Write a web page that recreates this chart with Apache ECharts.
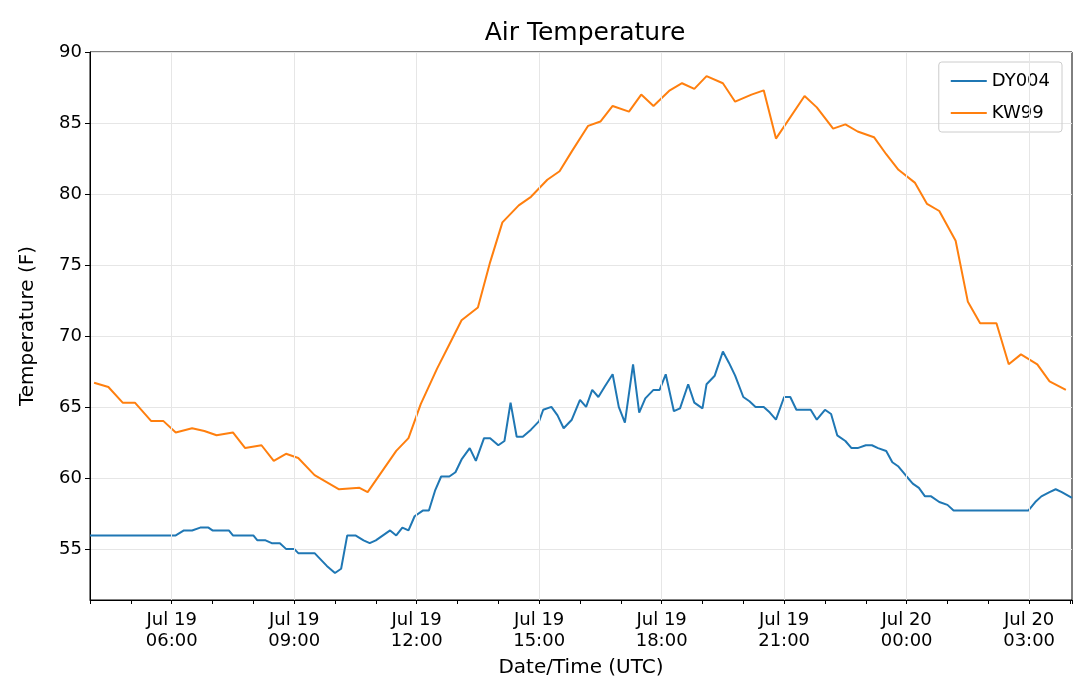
<!DOCTYPE html>
<html>
<head>
<meta charset="utf-8">
<script src="https://cdn.jsdelivr.net/npm/echarts@6/dist/echarts.min.js"></script>
<style>html,body{margin:0;padding:0;background:#fff}#main{width:1080px;height:692px}</style>
</head>
<body>
<div id="main"></div>
<script>
// hours since Jul 19 00:00 UTC
var dyTimes = [4.0,6.1,6.3,6.5,6.7,6.9,7.0,7.4,7.5,8.0,8.1,8.3,8.45,8.65,8.8,9.0,9.1,9.5,9.8,10.0,10.15,10.3,10.5,10.7,10.85,11.0,11.35,11.5,11.65,11.8,11.95,12.15,12.3,12.45,12.6,12.8,12.95,13.1,13.3,13.45,13.65,13.8,14.0,14.15,14.3,14.45,14.6,14.8,15.0,15.1,15.3,15.45,15.6,15.8,16.0,16.15,16.3,16.45,16.6,16.8,16.95,17.1,17.3,17.45,17.6,17.8,17.95,18.1,18.3,18.45,18.65,18.8,19.0,19.1,19.3,19.5,19.65,19.8,20.0,20.15,20.3,20.5,20.65,20.8,21.0,21.15,21.3,21.65,21.8,22.0,22.15,22.3,22.5,22.65,22.8,23.0,23.15,23.3,23.5,23.65,23.8,24.0,24.15,24.3,24.45,24.6,24.8,25.0,25.15,26.98,27.15,27.3,27.5,27.65,27.8,28.05];
var dyTemps = [55.95,55.95,56.3,56.3,56.5,56.5,56.3,56.3,55.95,55.95,55.6,55.6,55.4,55.4,55.0,55.0,54.7,54.7,53.8,53.3,53.6,55.95,55.95,55.6,55.4,55.6,56.3,55.95,56.5,56.3,57.3,57.7,57.7,59.1,60.1,60.1,60.4,61.3,62.1,61.2,62.8,62.8,62.3,62.6,65.3,62.9,62.9,63.4,64.0,64.8,65.0,64.4,63.5,64.1,65.5,65.0,66.2,65.7,66.4,67.3,65.0,63.9,68.0,64.6,65.6,66.2,66.2,67.3,64.7,64.9,66.6,65.3,64.9,66.6,67.2,68.9,68.1,67.2,65.7,65.4,65.0,65.0,64.6,64.1,65.7,65.7,64.8,64.8,64.1,64.8,64.5,63.0,62.6,62.1,62.1,62.3,62.3,62.1,61.9,61.1,60.8,60.1,59.6,59.3,58.7,58.7,58.3,58.1,57.7,57.7,58.3,58.7,59.0,59.2,59.0,58.6];
var kwTimes = [4.1,4.45,4.8,5.1,5.5,5.8,6.1,6.5,6.8,7.1,7.5,7.8,8.2,8.5,8.8,9.1,9.5,10.1,10.6,10.8,11.5,11.8,12.1,12.5,12.8,13.1,13.5,13.8,14.1,14.5,14.8,15.2,15.5,15.8,16.2,16.5,16.8,17.2,17.5,17.8,18.2,18.5,18.8,19.1,19.5,19.8,20.2,20.5,20.8,21.5,21.8,22.2,22.5,22.8,23.2,23.5,23.8,24.2,24.5,24.8,25.2,25.5,25.8,26.2,26.5,26.8,27.2,27.5,27.9];
var kwTemps = [66.7,66.4,65.3,65.3,64.0,64.0,63.2,63.5,63.3,63.0,63.2,62.1,62.3,61.2,61.7,61.4,60.2,59.2,59.3,59.0,61.9,62.8,65.2,67.7,69.4,71.1,72.0,75.2,78.0,79.2,79.8,81.0,81.6,83.0,84.8,85.1,86.2,85.8,87.0,86.2,87.3,87.8,87.4,88.3,87.8,86.5,87.0,87.3,83.9,86.9,86.1,84.6,84.9,84.4,84.0,82.8,81.7,80.8,79.3,78.8,76.7,72.4,70.9,70.9,68.0,68.7,68.0,66.8,66.2];
var majorHours = [6,9,12,15,18,21,24,27];

function pairs(t, v) { return t.map(function (x, i) { return [x, v[i]]; }); }
function hourLabel(h) {
  var day = h >= 24 ? 'Jul 20' : 'Jul 19';
  var hh = h % 24;
  return day + '\n' + (hh < 10 ? '0' : '') + hh + ':00';
}

var font = 'DejaVu Sans';
var chart = echarts.init(document.getElementById('main'));
chart.setOption({
  animation: false,
  textStyle: { fontFamily: font },
  title: { text: 'Air Temperature', left: 580, textAlign: 'center', top: 16,
    textStyle: { fontFamily: font, fontSize: 25, fontWeight: 'normal', color: '#000' } },
  legend: {
    right: 18, top: 62, orient: 'vertical', itemWidth: 36, itemHeight: 2, itemGap: 14,
    padding: [10, 12], borderColor: '#ccc', borderWidth: 1, borderRadius: 3,
    textStyle: { fontFamily: font, fontSize: 18, color: '#000' },
    data: [{ name: 'DY004', icon: 'rect' }, { name: 'KW99', icon: 'rect' }]
  },
  grid: { left: 90, right: 8, top: 52, bottom: 92, show: true, borderColor: '#000', borderWidth: 1 },
  xAxis: {
    type: 'value', min: 4, max: 28.05, interval: 1,
    name: 'Date/Time (UTC)', nameLocation: 'middle', nameGap: 58,
    nameTextStyle: { fontFamily: font, fontSize: 20, color: '#000' },
    axisLine: { lineStyle: { color: '#000' } },
    axisTick: { length: 4, lineStyle: { color: '#000' } },
    axisLabel: { fontFamily: font, fontSize: 18, color: '#000', lineHeight: 21, margin: 10,
      formatter: function (v) { return (Math.round(v) % 3 === 0 && v > 4 && v < 28) ? hourLabel(Math.round(v)) : ''; } },
    splitLine: { show: false }
  },
  yAxis: {
    type: 'value', min: 51.4, max: 90, splitNumber: 8,
    name: 'Temperature (F)', nameLocation: 'middle', nameGap: 52,
    nameTextStyle: { fontFamily: font, fontSize: 20, color: '#000' },
    axisLine: { show: true, lineStyle: { color: '#000' } },
    axisTick: { show: true, length: 5, lineStyle: { color: '#000' } },
    axisLabel: { fontFamily: font, fontSize: 18, color: '#000', showMinLabel: false },
    splitLine: { lineStyle: { color: '#e6e6e6' } }
  },
  series: [
    { name: 'grid', type: 'line', data: [], z: 1, silent: true,
      markLine: { silent: true, symbol: 'none', label: { show: false },
        lineStyle: { color: '#e6e6e6', type: 'solid', width: 1 },
        data: majorHours.map(function (h) { return { xAxis: h }; }) } },
    { name: 'DY004', type: 'line', data: pairs(dyTimes, dyTemps), showSymbol: false,
      lineStyle: { color: '#1f77b4', width: 2 }, itemStyle: { color: '#1f77b4' }, z: 3 },
    { name: 'KW99', type: 'line', data: pairs(kwTimes, kwTemps), showSymbol: false,
      lineStyle: { color: '#ff7f0e', width: 2 }, itemStyle: { color: '#ff7f0e' }, z: 3 }
  ]
});
</script>
</body>
</html>
